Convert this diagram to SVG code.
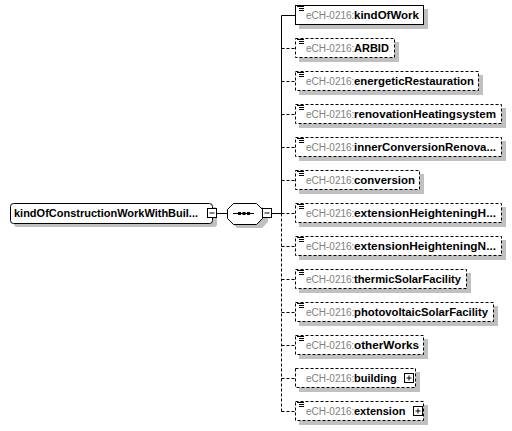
<svg xmlns="http://www.w3.org/2000/svg" width="512" height="431" viewBox="0 0 512 431">
<style>
.bg{fill:#fff}
.sh{fill:#c0c0c0}
.box{fill:#fff;stroke:#000;stroke-width:1}
.opt{stroke-dasharray:3,2}
.ln{fill:none;stroke:#000;stroke-width:1}
.dl{fill:none;stroke:#000;stroke-width:1;stroke-dasharray:3,2}
.t{font-family:"Liberation Sans",Arial,sans-serif;font-size:11px}
.pre{font-size:10px;fill:#808080}
.nm{font-family:"Liberation Sans",Arial,sans-serif;font-size:11px;font-weight:bold;fill:#000}
.ic{fill:none;stroke:#000;stroke-width:1}
</style>
<defs>
<g id="doc"><path class="ic" d="M297,6.5H304M299,8.5H304M299,10.5H304"/></g>
</defs>
<rect class="bg" x="0" y="0" width="512" height="431"/>

<g id="connectors">
<path class="ln" d="M216.5,213.5H227M271.5,213.5H281.5M281.5,15.5V213.5M281.5,15.5H295"/>
<path class="dl" d="M281.5,213.5V411.5"/>
<path class="dl" d="M281.5,48.5H295M281.5,81.5H295M281.5,114.5H295M281.5,147.5H295M281.5,180.5H295M281.5,213.5H295M281.5,246.5H295M281.5,279.5H295M281.5,312.5H295M281.5,345.5H295M281.5,378.5H295M281.5,411.5H295"/>
</g>

<g id="root">
<rect class="sh" x="14" y="207" width="203" height="20" rx="3"/>
<rect class="box" x="10.5" y="203.5" width="202" height="20" rx="3"/>
<text class="nm" x="14" y="217" textLength="184" lengthAdjust="spacingAndGlyphs">kindOfConstructionWorkWithBuil...</text>
<rect class="box" x="207.5" y="208.5" width="9" height="9"/>
<path class="ln" d="M209.5,213H214.5"/>
</g>

<g id="sequence">
<path class="sh" d="M237,207H262L268,213V222L262,228H237L231,222V213Z"/>
<path class="box" d="M233.5,203.5H256.5L262.5,209.5V218.5L256.5,224.5H233.5L227.5,218.5V209.5Z"/>
<path class="ln" d="M233,213.5H254"/>
<rect x="238" y="212" width="3" height="3" fill="#000"/>
<rect x="242.5" y="212" width="3" height="3" fill="#000"/>
<rect x="247" y="212" width="3" height="3" fill="#000"/>
<rect class="box" x="262.5" y="208.5" width="9" height="9"/>
<path class="ln" d="M264.5,213H269.5"/>
</g>

<g id="kindOfWork">
<rect class="sh" x="299" y="9" width="129" height="20"/>
<rect class="box" x="295.5" y="5.5" width="128" height="19"/>
<use href="#doc"/>
<text class="t" x="306" y="19"><tspan class="pre">eCH-0216:</tspan><tspan class="nm" x="354" textLength="65" lengthAdjust="spacingAndGlyphs">kindOfWork</tspan></text>
</g>

<g id="ARBID">
<rect class="sh" x="299" y="42" width="100" height="20"/>
<rect class="box opt" x="295.5" y="38.5" width="99" height="19"/>
<use href="#doc" y="33"/>
<text class="t" x="306" y="52"><tspan class="pre">eCH-0216:</tspan><tspan class="nm" x="354">ARBID</tspan></text>
</g>

<g id="energeticRestauration">
<rect class="sh" x="299" y="75" width="184" height="20"/>
<rect class="box opt" x="295.5" y="71.5" width="183" height="19"/>
<use href="#doc" y="66"/>
<text class="t" x="306" y="85"><tspan class="pre">eCH-0216:</tspan><tspan class="nm" x="354" textLength="120" lengthAdjust="spacingAndGlyphs">energeticRestauration</tspan></text>
</g>

<g id="renovationHeatingsystem">
<rect class="sh" x="299" y="108" width="207" height="20"/>
<rect class="box opt" x="295.5" y="104.5" width="206" height="19"/>
<use href="#doc" y="99"/>
<text class="t" x="306" y="118"><tspan class="pre">eCH-0216:</tspan><tspan class="nm" x="354" textLength="142" lengthAdjust="spacingAndGlyphs">renovationHeatingsystem</tspan></text>
</g>

<g id="innerConversionRenovation">
<rect class="sh" x="299" y="141" width="207" height="20"/>
<rect class="box opt" x="295.5" y="137.5" width="206" height="19"/>
<use href="#doc" y="132"/>
<text class="t" x="306" y="151"><tspan class="pre">eCH-0216:</tspan><tspan class="nm" x="354" textLength="142" lengthAdjust="spacingAndGlyphs">innerConversionRenova...</tspan></text>
</g>

<g id="conversion">
<rect class="sh" x="299" y="174" width="125" height="20"/>
<rect class="box opt" x="295.5" y="170.5" width="124" height="19"/>
<use href="#doc" y="165"/>
<text class="t" x="306" y="184"><tspan class="pre">eCH-0216:</tspan><tspan class="nm" x="354" textLength="61" lengthAdjust="spacingAndGlyphs">conversion</tspan></text>
</g>

<g id="extensionHeighteningH">
<rect class="sh" x="299" y="207" width="207" height="20"/>
<rect class="box opt" x="295.5" y="203.5" width="206" height="19"/>
<use href="#doc" y="198"/>
<text class="t" x="306" y="217"><tspan class="pre">eCH-0216:</tspan><tspan class="nm" x="354" textLength="142" lengthAdjust="spacingAndGlyphs">extensionHeighteningH...</tspan></text>
</g>

<g id="extensionHeighteningN">
<rect class="sh" x="299" y="240" width="207" height="20"/>
<rect class="box opt" x="295.5" y="236.5" width="206" height="19"/>
<use href="#doc" y="231"/>
<text class="t" x="306" y="250"><tspan class="pre">eCH-0216:</tspan><tspan class="nm" x="354" textLength="142" lengthAdjust="spacingAndGlyphs">extensionHeighteningN...</tspan></text>
</g>

<g id="thermicSolarFacility">
<rect class="sh" x="299" y="273" width="172" height="20"/>
<rect class="box opt" x="295.5" y="269.5" width="171" height="19"/>
<use href="#doc" y="264"/>
<text class="t" x="306" y="283"><tspan class="pre">eCH-0216:</tspan><tspan class="nm" x="354" textLength="107" lengthAdjust="spacingAndGlyphs">thermicSolarFacility</tspan></text>
</g>

<g id="photovoltaicSolarFacility">
<rect class="sh" x="299" y="306" width="199" height="20"/>
<rect class="box opt" x="295.5" y="302.5" width="198" height="19"/>
<use href="#doc" y="297"/>
<text class="t" x="306" y="316"><tspan class="pre">eCH-0216:</tspan><tspan class="nm" x="354" textLength="134" lengthAdjust="spacingAndGlyphs">photovoltaicSolarFacility</tspan></text>
</g>

<g id="otherWorks">
<rect class="sh" x="299" y="339" width="129" height="20"/>
<rect class="box opt" x="295.5" y="335.5" width="128" height="19"/>
<use href="#doc" y="330"/>
<text class="t" x="306" y="349"><tspan class="pre">eCH-0216:</tspan><tspan class="nm" x="354" textLength="65" lengthAdjust="spacingAndGlyphs">otherWorks</tspan></text>
</g>

<g id="building">
<rect class="sh" x="299" y="372" width="121" height="20"/>
<rect class="box opt" x="295.5" y="368.5" width="120" height="19"/>
<text class="t" x="306" y="382"><tspan class="pre">eCH-0216:</tspan><tspan class="nm" x="354">building</tspan></text>
<rect class="box" x="404.5" y="373.5" width="9" height="9"/>
<path class="ln" d="M406.5,378H411.5M409,375.5V380.5"/>
</g>

<g id="extension">
<rect class="sh" x="299" y="405" width="129" height="20"/>
<rect class="box opt" x="295.5" y="401.5" width="128" height="19"/>
<use href="#doc" y="396"/>
<text class="t" x="306" y="415"><tspan class="pre">eCH-0216:</tspan><tspan class="nm" x="354">extension</tspan></text>
<rect class="box" x="413.5" y="406.5" width="9" height="9"/>
<path class="ln" d="M415.5,411H420.5M418,408.5V413.5"/>
</g>
</svg>
